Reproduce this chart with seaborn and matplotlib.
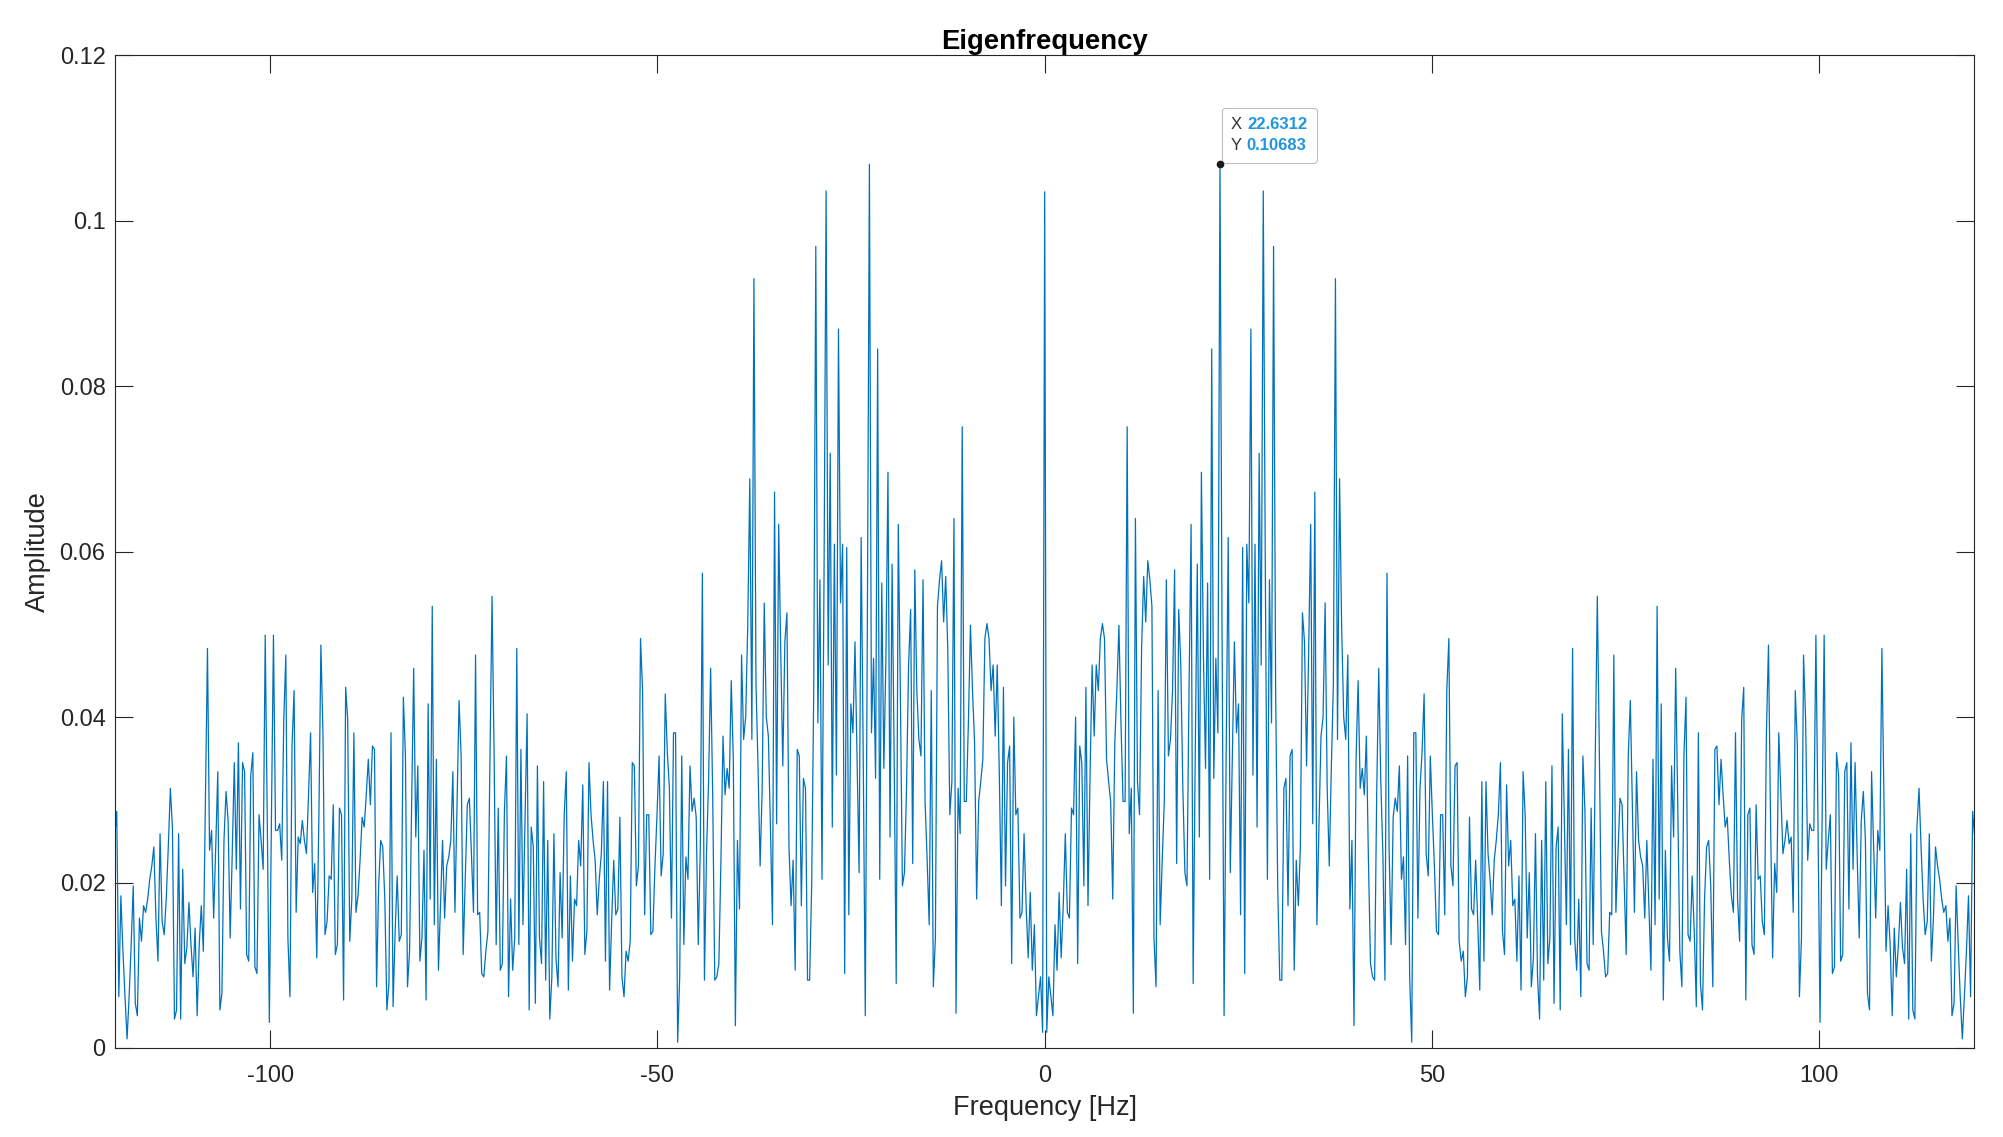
import numpy as np
import pandas as pd
import matplotlib
matplotlib.use("Agg")
import matplotlib.pyplot as plt
import seaborn as sns
from matplotlib.offsetbox import TextArea, HPacker, VPacker, AnnotationBbox
from matplotlib.ticker import FuncFormatter

# ---------------- data (one-sided amplitude spectrum, mirrored) ----------------
tip_x = 22.6312          # datatip frequency (bin 85)
tip_y = 0.10683
bin_step = tip_x / 85    # frequency resolution [Hz]

amp_0_28hz = [
    0.1035, 0.0019, 0.0086, 0.0062, 0.0039, 0.0149, 0.0094, 0.0188, 0.0109, 0.0172,
    0.0259, 0.0164, 0.0157, 0.0290, 0.0282, 0.0400, 0.0102, 0.0365, 0.0345, 0.0196,
    0.0436, 0.0172, 0.0330, 0.0463, 0.0377, 0.0463, 0.0432, 0.0495, 0.0513, 0.0495,
    0.0349, 0.0322, 0.0298, 0.0180, 0.0369, 0.0432, 0.0511, 0.0393, 0.0298, 0.0298,
    0.0751, 0.0259, 0.0314, 0.0042, 0.0640, 0.0322, 0.0282, 0.0483, 0.0570, 0.0515,
    0.0589, 0.0566, 0.0534, 0.0133, 0.0074, 0.0432, 0.0149, 0.0227, 0.0298, 0.0566,
    0.0353, 0.0373, 0.0432, 0.0578, 0.0223, 0.0530, 0.0463, 0.0314, 0.0212, 0.0196,
    0.0432, 0.0633, 0.0078, 0.0353, 0.0585, 0.0255, 0.0696, 0.0471, 0.0338, 0.0562,
    0.0204, 0.0845, 0.0326, 0.0471, 0.0381, 0.10683, 0.0511, 0.0039, 0.0353, 0.0617,
    0.0212, 0.0353, 0.0491, 0.0381, 0.0416, 0.0161, 0.0605, 0.0090, 0.0609, 0.0538,
    0.0869, 0.0330, 0.0609, 0.0267, 0.0719, 0.0463,
]
amp_28_57hz = [
    0.1036, 0.0574, 0.0204, 0.0566, 0.0393, 0.0969, 0.0432, 0.0196, 0.0082, 0.0082,
    0.0314, 0.0326, 0.0172, 0.0353, 0.0361, 0.0094, 0.0227, 0.0172, 0.0243, 0.0526,
    0.0491, 0.0341, 0.0479, 0.0633, 0.0271, 0.0672, 0.0149, 0.0267, 0.0377, 0.0400,
    0.0538, 0.0314, 0.0220, 0.0338, 0.0440, 0.0930, 0.0373, 0.0688, 0.0511, 0.0400,
    0.0373, 0.0475, 0.0168, 0.0251, 0.0027, 0.0349, 0.0444, 0.0314, 0.0338, 0.0306,
    0.0377, 0.0227, 0.0102, 0.0086, 0.0082, 0.0306, 0.0459, 0.0322, 0.0235, 0.0082,
    0.0574, 0.0243, 0.0125, 0.0279, 0.0302, 0.0286, 0.0341, 0.0204, 0.0231, 0.0125,
    0.0353, 0.0086, 0.0007, 0.0381, 0.0381, 0.0157, 0.0314, 0.0357, 0.0428, 0.0235,
    0.0208, 0.0353, 0.0282, 0.0220, 0.0141, 0.0137, 0.0282, 0.0282, 0.0161, 0.0432,
    0.0495, 0.0220, 0.0196, 0.0341, 0.0345, 0.0129, 0.0105, 0.0117, 0.0062, 0.0086,
    0.0279, 0.0168, 0.0161, 0.0227, 0.0153, 0.0070, 0.0322, 0.0105, 0.0322, 0.0235,
]
amp_57_87hz = [
    0.0204, 0.0161, 0.0227, 0.0251, 0.0282, 0.0345, 0.0141, 0.0113, 0.0318, 0.0220,
    0.0251, 0.0172, 0.0180, 0.0105, 0.0208, 0.0070, 0.0334, 0.0282, 0.0133, 0.0212,
    0.0074, 0.0109, 0.0259, 0.0086, 0.0035, 0.0251, 0.0082, 0.0322, 0.0102, 0.0133,
    0.0341, 0.0054, 0.0243, 0.0267, 0.0046, 0.0404, 0.0275, 0.0149, 0.0361, 0.0125,
    0.0483, 0.0133, 0.0094, 0.0180, 0.0062, 0.0353, 0.0286, 0.0102, 0.0094, 0.0290,
    0.0125, 0.0353, 0.0546, 0.0353, 0.0141, 0.0117, 0.0086, 0.0090, 0.0164, 0.0161,
    0.0475, 0.0164, 0.0235, 0.0302, 0.0294, 0.0204, 0.0113, 0.0353, 0.0420, 0.0290,
    0.0164, 0.0334, 0.0251, 0.0231, 0.0220, 0.0157, 0.0251, 0.0172, 0.0094, 0.0349,
    0.0149, 0.0534, 0.0180, 0.0416, 0.0058, 0.0239, 0.0133, 0.0105, 0.0341, 0.0255,
    0.0459, 0.0294, 0.0117, 0.0074, 0.0353, 0.0424, 0.0137, 0.0129, 0.0208, 0.0141,
    0.0050, 0.0381, 0.0078, 0.0046, 0.0180, 0.0243, 0.0251, 0.0196, 0.0074, 0.0361,
    0.0365, 0.0294,
]
amp_87_120hz = [
    0.0349, 0.0306, 0.0267, 0.0279, 0.0227, 0.0184, 0.0164, 0.0381, 0.0180, 0.0129,
    0.0397, 0.0436, 0.0058, 0.0282, 0.0290, 0.0125, 0.0113, 0.0294, 0.0204, 0.0208,
    0.0153, 0.0137, 0.0381, 0.0487, 0.0275, 0.0109, 0.0223, 0.0188, 0.0381, 0.0306,
    0.0235, 0.0251, 0.0275, 0.0247, 0.0255, 0.0164, 0.0432, 0.0365, 0.0062, 0.0133,
    0.0475, 0.0397, 0.0227, 0.0271, 0.0263, 0.0263, 0.0499, 0.0275, 0.0031, 0.0275,
    0.0499, 0.0216, 0.0251, 0.0282, 0.0090, 0.0098, 0.0357, 0.0330, 0.0105, 0.0113,
    0.0334, 0.0345, 0.0168, 0.0369, 0.0216, 0.0345, 0.0235, 0.0133, 0.0275, 0.0310,
    0.0251, 0.0066, 0.0046, 0.0334, 0.0243, 0.0157, 0.0263, 0.0239, 0.0483, 0.0298,
    0.0117, 0.0172, 0.0125, 0.0039, 0.0145, 0.0086, 0.0125, 0.0176, 0.0121, 0.0102,
    0.0216, 0.0035, 0.0259, 0.0046, 0.0035, 0.0267, 0.0314, 0.0243, 0.0180, 0.0137,
    0.0153, 0.0259, 0.0105, 0.0157, 0.0243, 0.0220, 0.0204, 0.0180, 0.0164, 0.0172,
    0.0129, 0.0157, 0.0039, 0.0054, 0.0196, 0.0125, 0.0062, 0.0011, 0.0062, 0.0117,
    0.0184, 0.0062, 0.0286, 0.0255,
]

x_ticks = [-100, -50, 0, 50, 100]
y_ticks = [0, 0.02, 0.04, 0.06, 0.08, 0.1, 0.12]

title_text = "Eigenfrequency"
x_label = "Frequency [Hz]"
y_label = "Amplitude"

# ---------------- build the two-sided spectrum ----------------
half = np.array(amp_0_28hz + amp_28_57hz + amp_57_87hz + amp_87_120hz)
k = np.arange(len(half))
freq = np.concatenate([-k[:0:-1], k]) * bin_step
amp = np.concatenate([half[:0:-1], half])
df = pd.DataFrame({"Frequency": freq, "Amplitude": amp})

# ---------------- plot ----------------
sns.set_style("ticks")
plt.rcParams["font.family"] = ["Liberation Sans", "DejaVu Sans"]

dark = "#262626"
fig = plt.figure(figsize=(20.03, 11.37), dpi=100)
ax = fig.add_axes([0.05756, 0.07828, 0.9280, 0.8731])

sns.lineplot(data=df, x="Frequency", y="Amplitude", ax=ax, color="#0072BD",
             linewidth=0.9, estimator=None, sort=False)

ax.set_xlim(-120, 120)
ax.set_ylim(0, 0.12)
ax.set_xticks(x_ticks)
ax.set_yticks(y_ticks)
fmt = FuncFormatter(lambda v, _: f"{v:g}")
ax.xaxis.set_major_formatter(fmt)
ax.yaxis.set_major_formatter(fmt)
ax.tick_params(direction="in", length=13, width=0.8, top=True, right=True,
               labelsize=17, colors=dark)
ax.tick_params(axis="x", pad=12.5)
ax.tick_params(axis="y", pad=7)
for s in ax.spines.values():
    s.set_visible(True)
    s.set_color(dark)
    s.set_linewidth(0.8)

ax.set_xlabel(x_label, fontsize=19.5, color=dark, labelpad=5.5)
ax.set_ylabel(y_label, fontsize=19.5, color=dark, labelpad=6.5)
ax.set_title(title_text, fontsize=19.8, fontweight="bold", color="black", pad=4.8)

# datatip
ax.plot([tip_x], [tip_y], "o", color="#1a1a1a", markersize=4.5, zorder=5)
blue = "#2196e0"
tp = dict(size=12, color="#333333")
vp = dict(size=12, color=blue, weight="bold")
row1 = HPacker(children=[TextArea("X ", textprops=tp), TextArea(f"{tip_x:g}", textprops=vp)],
               pad=0, sep=0, align="baseline")
row2 = HPacker(children=[TextArea("Y ", textprops=tp), TextArea(f"{tip_y:g}", textprops=vp)],
               pad=0, sep=0, align="baseline")
box = VPacker(children=[row1, row2], pad=0, sep=4, align="left")
ab = AnnotationBbox(box, (tip_x, tip_y), xybox=(8.2, 8.2), xycoords="data",
                    boxcoords="offset points", box_alignment=(0, 0),
                    frameon=True,
                    bboxprops=dict(boxstyle="round,pad=0.7,rounding_size=0.25",
                                   fc="white", ec="#bfbfbf", lw=0.8))
ax.add_artist(ab)

fig.savefig("out.png", dpi=100, facecolor="white")
